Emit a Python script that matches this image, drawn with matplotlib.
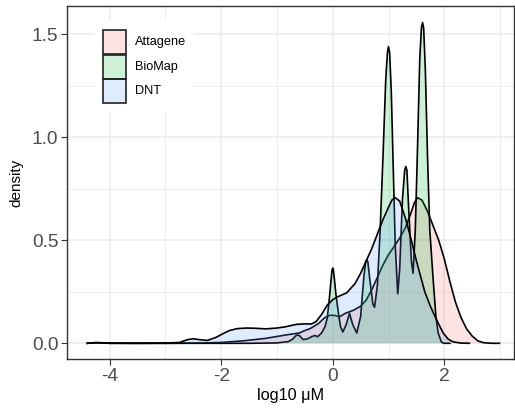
import matplotlib
matplotlib.use("Agg")
import matplotlib.pyplot as plt
from matplotlib.patches import Rectangle

plt.rcParams['font.family'] = ['Liberation Sans', 'DejaVu Sans']
plt.rcParams['axes.unicode_minus'] = False

groups = ["Attagene", "BioMap", "DNT"]
colors = ["#F8766D", "#00BA38", "#619CFF"]

attagene_x = [-4.40, -4.25, -4.1, -4.0, -3.5, -3.0, -2.5, -2.0, -1.6, -1.2, -0.85, -0.6, -0.5, -0.4,
              -0.26, -0.14, -0.05, 0.05, 0.12, 0.22, 0.37, 0.5, 0.6, 0.7, 0.8, 0.9, 1.0, 1.1, 1.2,
              1.3, 1.4, 1.46, 1.52, 1.6, 1.7, 1.8, 1.9, 2.0, 2.1, 2.2, 2.3, 2.4, 2.5, 2.6, 2.7, 2.85, 2.99]
attagene_y = [0.0, 0.003, 0.002, 0.0, 0.0, 0.0, 0.001, 0.004, 0.012, 0.024, 0.04, 0.05, 0.062, 0.072,
              0.095, 0.125, 0.136, 0.135, 0.128, 0.145, 0.16, 0.18, 0.21, 0.26, 0.32, 0.38, 0.43, 0.47, 0.51,
              0.56, 0.63, 0.68, 0.707, 0.695, 0.64, 0.57, 0.50, 0.41, 0.30, 0.20, 0.125, 0.07, 0.035, 0.012, 0.003, 0.0, 0.0]

biomap_x = [-4.40, -4.25, -4.1, -4.0, -3.0, -2.0, -1.5, -1.0, -0.8, -0.72, -0.65, -0.6, -0.53, -0.45,
            -0.38, -0.32, -0.27, -0.2, -0.14, -0.1, -0.06, -0.03, -0.012, 0.0, 0.012, 0.03, 0.06, 0.1, 0.14, 0.18,
            0.24, 0.3, 0.36, 0.43, 0.5, 0.56, 0.59, 0.61, 0.63, 0.66, 0.72, 0.75, 0.8, 0.85, 0.9, 0.95,
            0.98, 1.0, 1.02, 1.05,
            1.08, 1.12, 1.165, 1.2, 1.25, 1.29, 1.31, 1.33, 1.36, 1.41, 1.44, 1.48, 1.52, 1.56, 1.59, 1.61,
            1.63, 1.66, 1.70, 1.74, 1.80, 1.85, 1.89, 1.95, 2.0, 2.1]
biomap_y = [0.0, 0.003, 0.002, 0.0, 0.0, 0.0, 0.0, 0.002, 0.008, 0.02, 0.04, 0.038, 0.018, 0.022,
            0.032, 0.038, 0.032, 0.05, 0.08, 0.12, 0.22, 0.31, 0.355, 0.365, 0.355, 0.31, 0.23, 0.15, 0.08, 0.055,
            0.09, 0.145, 0.09, 0.05, 0.13, 0.33, 0.395, 0.405, 0.395, 0.32, 0.19, 0.175, 0.28, 0.55, 0.90, 1.28,
            1.41, 1.44, 1.41, 1.22,
            0.90, 0.48, 0.24, 0.36, 0.70, 0.84, 0.858, 0.84, 0.66, 0.40, 0.34, 0.55, 0.95, 1.38, 1.53, 1.557,
            1.53, 1.33, 0.90, 0.55, 0.31, 0.13, 0.05, 0.005, 0.0, 0.0]

dnt_x = [-4.40, -4.25, -4.1, -4.0, -3.5, -3.0, -2.75, -2.6, -2.5, -2.4, -2.25, -2.1, -1.96, -1.85,
         -1.72, -1.55, -1.4, -1.2, -1.0, -0.85, -0.65, -0.5, -0.38, -0.3, -0.2, -0.1, 0.0, 0.1, 0.25,
         0.4, 0.5, 0.6, 0.7, 0.8, 0.9, 1.0, 1.06, 1.12, 1.2, 1.3, 1.4, 1.5, 1.57, 1.65, 1.75, 1.86, 1.98,
         2.07, 2.16, 2.3, 2.45]
dnt_y = [0.0, 0.003, 0.002, 0.001, 0.0, 0.001, 0.004, 0.018, 0.022, 0.018, 0.014, 0.028, 0.048, 0.062,
         0.071, 0.074, 0.073, 0.070, 0.074, 0.080, 0.092, 0.094, 0.094, 0.105, 0.14, 0.185, 0.212, 0.227, 0.245,
         0.29, 0.34, 0.40, 0.46, 0.53, 0.60, 0.66, 0.695, 0.707, 0.69, 0.61, 0.51, 0.40, 0.33, 0.25, 0.18, 0.115, 0.05,
         0.02, 0.007, 0.001, 0.0]

series = [(attagene_x, attagene_y), (biomap_x, biomap_y), (dnt_x, dnt_y)]

x_ticks = [-4, -2, 0, 2]
y_ticks = [0.0, 0.5, 1.0, 1.5]
y_tick_labels = ["0.0", "0.5", "1.0", "1.5"]

W, H = 515, 409
fig = plt.figure(figsize=(W / 100, H / 100), dpi=100)
ax = fig.add_axes([67.3 / W, 1 - 359.3 / H, (514 - 67.3) / W, (359.3 - 6) / H])

for i, ((xs, ys), c) in enumerate(zip(series, colors)):
    ax.fill_between(xs, 0, ys, facecolor=c, alpha=0.2, linewidth=0, zorder=3 + 2 * i)
    ax.plot(xs, ys, color="black", lw=1.2, zorder=4 + 2 * i, solid_joinstyle="round")

ax.set_xlim(-4.76, 3.25)
ax.set_ylim(-0.0777, 1.637)
ax.set_xticks(x_ticks)
ax.set_xticklabels([str(t) for t in x_ticks])
ax.set_yticks(y_ticks)
ax.set_yticklabels(y_tick_labels)
ax.set_xticks([-3, -1, 1, 3], minor=True)
ax.set_yticks([0.25, 0.75, 1.25], minor=True)
ax.grid(True, which="major", color="#EBEBEB", lw=1.1, zorder=0)
ax.grid(True, which="minor", color="#EBEBEB", lw=0.6, zorder=0)
ax.set_axisbelow(True)
ax.tick_params(which="major", length=4, width=0.8, color="#333333", labelsize=13.8,
               labelcolor="#4D4D4D", pad=2.5)
ax.tick_params(which="minor", length=0)
for s in ax.spines.values():
    s.set_color("#333333")
    s.set_linewidth(1.0)

ax.set_xlabel("log10 μM", fontsize=11.7, labelpad=2, color="black")
ax.set_ylabel("density", fontsize=11, labelpad=6, color="black")

# legend
fig.patches.append(Rectangle((95 / W, 1 - 112 / H), 98 / W, 92 / H, transform=fig.transFigure,
                             facecolor="white", edgecolor="none", zorder=10))
key_tops = [30, 54.5, 79]
key_h = 24.3
for name, c, top in zip(groups, colors, key_tops):
    fig.patches.append(Rectangle((103 / W, 1 - (top + key_h) / H), 23.3 / W, key_h / H,
                                 transform=fig.transFigure, facecolor=c, alpha=0.2,
                                 edgecolor="none", zorder=11))
    fig.patches.append(Rectangle((103 / W, 1 - (top + key_h) / H), 23.3 / W, key_h / H,
                                 transform=fig.transFigure, facecolor="none",
                                 edgecolor="#222222", lw=1.2, zorder=12))
    fig.text(135 / W, 1 - (top + key_h / 2) / H, name, fontsize=9.2, va="center", ha="left",
             color="black", zorder=13)

fig.savefig("out.png", dpi=100)
